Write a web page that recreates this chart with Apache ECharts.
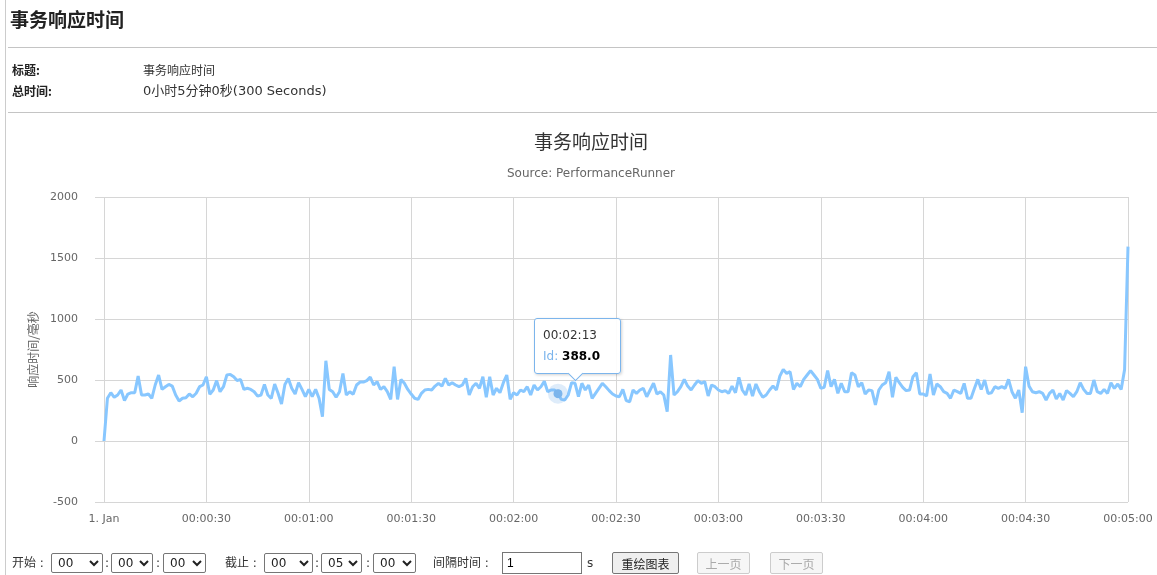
<!DOCTYPE html>
<html>
<head>
<meta charset="utf-8">
<title>事务响应时间</title>
<script src="https://cdn.jsdelivr.net/npm/echarts@6/dist/echarts.min.js"></script>
<style>
  body { margin: 0; width: 1157px; height: 575px; overflow: hidden; background: #fff; position: relative;
         font-family: "DejaVu Sans", "Noto Sans CJK SC", sans-serif; color: #333; }
  #chart { position: absolute; left: 0; top: 0; width: 1157px; height: 575px; }
  .vline { position: absolute; left: 5px; top: 0; width: 1px; height: 575px; background: #ccc; }
  .hr { position: absolute; left: 8px; right: 0; height: 1px; background: #c4c4c4; }
  h2 { position: absolute; left: 10px; top: 6px; margin: 0; font-size: 19px; line-height: 26px; font-weight: bold;
       font-family: "Noto Sans CJK SC", sans-serif; color: #222; }
  .lbl { position: absolute; font-size: 12px; line-height: 16px; font-weight: bold; color: #222;
         font-family: "Noto Sans CJK SC", sans-serif; }
  .val { position: absolute; font-size: 13px; line-height: 16px; color: #333; }
  .ctrl > * { position: absolute; font-size: 12px; box-sizing: border-box; }
  .ctrl span { top: 555px; line-height: 16px; color: #333; }
  .ctrl select { top: 553px; height: 20px; border: 1px solid #767676; border-radius: 2px; background: #fff;
                 font-family: "DejaVu Sans", sans-serif; font-size: 12px; padding: 0 0 0 2px; color: #222; }
  .ctrl input { top: 552px; height: 22px; width: 80px; border: 1px solid #767676; padding: 0 4px; font-size: 12px; }
  .ctrl button { top: 552px; height: 22px; border: 1px solid #767676; border-radius: 2px; background: #efefef;
                 font-size: 12px; padding: 0; color: #222; font-family: "Noto Sans CJK SC", sans-serif; }
  .ctrl button[disabled] { color: #aaa; border-color: #ccc; background: #f6f6f6; }
</style>
</head>
<body>
<div id="chart"></div>
<div class="vline"></div>
<h2>事务响应时间</h2>
<div class="hr" style="top:47px"></div>
<div class="lbl" style="left:12px;top:62px">标题:</div>
<div class="val" style="left:143px;top:62px;font-size:12px;font-family:'Noto Sans CJK SC',sans-serif">事务响应时间</div>
<div class="lbl" style="left:12px;top:83px">总时间:</div>
<div class="val" style="left:143px;top:83px">0小时5分钟0秒(300 Seconds)</div>
<div class="hr" style="top:112px"></div>

<div class="ctrl">
  <span style="left:12px">开始 :</span>
  <select style="left:51px;width:52px"><option>00</option></select>
  <span style="left:105px">:</span>
  <select style="left:111px;width:42px"><option>00</option></select>
  <span style="left:156px">:</span>
  <select style="left:163px;width:43px"><option>00</option></select>
  <span style="left:225px">截止 :</span>
  <select style="left:264px;width:49px"><option>00</option></select>
  <span style="left:315px">:</span>
  <select style="left:321px;width:41px"><option>05</option></select>
  <span style="left:366px">:</span>
  <select style="left:373px;width:43px"><option>00</option></select>
  <span style="left:433px">间隔时间 :</span>
  <input style="left:502px" value="1">
  <span style="left:587px">s</span>
  <button style="left:612px;width:67px">重绘图表</button>
  <button style="left:697px;width:53px" disabled>上一页</button>
  <button style="left:770px;width:53px" disabled>下一页</button>
</div>

<script>
// 响应时间 (毫秒), 每秒一个点, 0 ~ 300 秒
const values = [
  0, 350, 396, 358, 377, 418, 331, 385, 396, 396,
  532, 377, 377, 385, 350, 459, 541, 423, 445, 464,
  450, 377, 328, 350, 355, 385, 363, 391, 445, 459,
  527, 383, 418, 495, 404, 445, 541, 546, 527, 495,
  505, 423, 432, 423, 404, 368, 377, 464, 377, 350,
  466, 391, 303, 464, 513, 432, 385, 478, 423, 363,
  423, 363, 423, 350, 200, 658, 423, 404, 358, 404,
  554, 377, 404, 383, 459, 483, 483, 495, 524, 459,
  486, 423, 445, 404, 341, 609, 341, 505, 473, 423,
  385, 350, 341, 391, 418, 423, 418, 450, 473, 450,
  513, 459, 478, 459, 445, 459, 513, 377, 445, 473,
  432, 527, 358, 527, 377, 432, 396, 478, 541, 341,
  396, 377, 418, 404, 445, 377, 459, 418, 445, 489,
  404, 418, 418, 388, 341, 336, 377, 478, 473, 363,
  473, 418, 459, 350, 391, 432, 473, 445, 413, 385,
  369, 363, 423, 331, 322, 418, 391, 418, 432, 363,
  418, 473, 385, 404, 377, 241, 705, 377, 404, 445,
  505, 450, 418, 459, 495, 473, 486, 369, 459, 445,
  418, 404, 413, 391, 450, 396, 522, 418, 377, 467,
  369, 467, 404, 358, 377, 418, 450, 418, 532, 587,
  554, 568, 423, 473, 445, 505, 541, 577, 541, 505,
  432, 440, 577, 445, 505, 391, 473, 404, 404, 559,
  541, 445, 478, 385, 418, 413, 295, 418, 459, 478,
  568, 358, 522, 478, 440, 413, 418, 527, 560, 385,
  385, 369, 549, 377, 467, 445, 404, 390, 350, 418,
  404, 390, 472, 350, 350, 431, 505, 423, 500, 390,
  396, 445, 431, 445, 431, 505, 404, 350, 418, 232,
  609, 450, 404, 396, 404, 390, 336, 390, 418, 344,
  390, 336, 413, 390, 363, 404, 478, 423, 390, 390,
  500, 404, 390, 423, 390, 478, 431, 467, 423, 585,
  1593
]
const seriesName = 'Id'
const hoverIndex = 133

const pad = n => (n < 10 ? '0' : '') + n
const fmtTime = s => pad(Math.floor(s / 3600)) + ':' + pad(Math.floor(s / 60) % 60) + ':' + pad(s % 60)

const chart = echarts.init(document.getElementById('chart'))
const gridColor = '#d6d6d6'

const options = {
  animation: false,
  title: [
    { text: '事务响应时间', left: 591, top: 142, padding: 0, textAlign: 'center', textVerticalAlign: 'middle',
      textStyle: { fontSize: 19, fontWeight: 'normal', color: '#333', fontFamily: 'Noto Sans CJK SC' } },
    { text: 'Source: PerformanceRunner', left: 591, top: 174, padding: 0, textAlign: 'center', textVerticalAlign: 'middle',
      textStyle: { fontSize: 12, fontWeight: 'normal', color: '#666', fontFamily: 'DejaVu Sans' } }
  ],
  grid: { left: 104, right: 29, top: 197, bottom: 73 },
  tooltip: {
    trigger: 'axis',
    axisPointer: { type: 'none' },
    alwaysShowContent: true,
    backgroundColor: 'rgba(255,255,255,0.92)',
    borderColor: '#7cb5ec',
    borderWidth: 1,
    borderRadius: 3,
    padding: [6, 8],
    extraCssText: 'box-shadow:1px 1px 3px rgba(0,0,0,0.18);width:69px;',
    position: [534, 318],
    formatter: params => {
      const p = params[0]
      return '<div style="font-family:DejaVu Sans;font-size:12px;line-height:21px;color:#333">' +
        fmtTime(p.value[0]) + '<br/>' +
        '<span style="color:#7cb5ec">' + p.seriesName + ':</span> ' +
        '<b style="color:#000">' + p.value[1].toFixed(1) + '</b></div>' +
        '<div style="position:absolute;left:35px;bottom:-6px;width:10px;height:10px;background:#fff;' +
        'border-right:1px solid #7cb5ec;border-bottom:1px solid #7cb5ec;transform:rotate(45deg)"></div>'
    }
  },
  xAxis: {
    type: 'value',
    min: 0,
    max: 300,
    interval: 30,
    axisLine: { show: false },
    axisTick: { show: true, length: 8, lineStyle: { color: gridColor } },
    splitLine: { show: true, lineStyle: { color: gridColor } },
    axisLabel: {
      margin: 12, color: '#666', fontSize: 11, fontFamily: 'DejaVu Sans',
      formatter: s => (s === 0 ? '1. Jan' : fmtTime(s))
    }
  },
  yAxis: {
    type: 'value',
    min: -500,
    max: 2000,
    interval: 500,
    name: '响应时间/毫秒',
    nameLocation: 'middle',
    nameGap: 64,
    nameTextStyle: { color: '#666', fontSize: 12, fontFamily: 'Noto Sans CJK SC' },
    axisLine: { show: false },
    axisTick: { show: true, length: 9, lineStyle: { color: gridColor } },
    splitLine: { lineStyle: { color: gridColor } },
    axisLabel: { margin: 26, color: '#666', fontSize: 11, fontFamily: 'DejaVu Sans', formatter: v => String(v) }
  },
  series: [{
    name: seriesName,
    type: 'line',
    data: values.map((v, i) => [i, v]),
    showSymbol: false,
    symbol: 'circle',
    symbolSize: 8,
    itemStyle: { color: '#7cb5ec' },
    lineStyle: { color: '#7cb5ec', width: 3 },
    emphasis: { scale: false, lineStyle: { width: 3 } },
    markPoint: {
      silent: true,
      symbol: 'circle',
      label: { show: false },
      data: [
        { coord: [hoverIndex, values[hoverIndex]], symbolSize: 20, itemStyle: { color: 'rgba(124,181,236,0.25)' } },
        { coord: [hoverIndex, values[hoverIndex]], symbolSize: 9, itemStyle: { color: '#7cb5ec' } }
      ]
    }
  }]
}

chart.setOption(options, true)
setTimeout(() => {
  chart.dispatchAction({ type: 'showTip', seriesIndex: 0, dataIndex: hoverIndex })
}, 50)
</script>
</body>
</html>
